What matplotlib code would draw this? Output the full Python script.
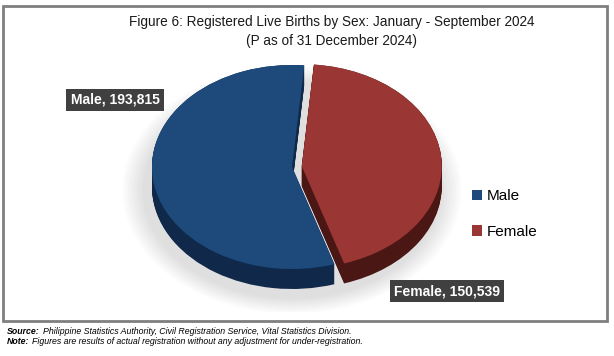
import numpy as np
import matplotlib.pyplot as plt
from matplotlib.patches import Ellipse, Rectangle

# data
labels = ["Male", "Female"]
births = [193815, 150539]

top_colors = {"Male": "#1d4a7a", "Female": "#9a3634"}
side_colors = {"Male": "#10294a", "Female": "#4a1715"}

W, H = 614, 356
fig = plt.figure(figsize=(W / 100, H / 100), dpi=100)
fig.patch.set_facecolor("white")

def fx(px):
    return px / W

def fy(py):
    return 1 - py / H

# outer frame
fig.add_artist(Rectangle((fx(3), fy(321)), fx(604), 315 / H, transform=fig.transFigure,
                         fill=False, edgecolor="#7f7f7f", lw=2))

# pie axes (squashed to fake a tilted 3D pie)
cx, cy, rx, ry = 292, 167, 140, 102
left, right, top, bottom = 122, 462, 40, 312
ax = fig.add_axes([fx(left), fy(bottom), (right - left) / W, (bottom - top) / H])
ax.axis("off")

# pie order: female first going clockwise from the top
order = [1, 0]
vals = [births[i] for i in order]
names = [labels[i] for i in order]
explode = [0.07, 0.0]
depth = 20 / ry

# soft shadow
for k in range(8):
    ax.add_patch(Ellipse((0.0, -depth - 0.03), 2.1 + 0.04 * (8 - k), 2.1 + 0.04 * (8 - k),
                         facecolor="#808080", alpha=0.03, lw=0, zorder=0))

# side of the disc
for d in np.linspace(depth, 0, 25):
    w, _ = ax.pie(vals, colors=[side_colors[n] for n in names], startangle=85,
                  counterclock=False, explode=explode, center=(0, -d), radius=1.0,
                  wedgeprops=dict(lw=0))
    for ww in w:
        ww.set_zorder(1)

# top face
wedges, _ = ax.pie(vals, colors=[top_colors[n] for n in names], startangle=85,
                   counterclock=False, explode=explode, center=(0, 0), radius=1.0,
                   wedgeprops=dict(lw=0))
for ww in wedges:
    ww.set_zorder(2)
ax.set_aspect("auto")
ax.set_xlim(-(cx - left) / rx, (right - cx) / rx)
ax.set_ylim(-(bottom - cy) / ry, (cy - top) / ry)

# title
title_font = ["Liberation Sans Narrow", "Liberation Sans", "DejaVu Sans"]
fig.text(fx(332), fy(22), "Figure 6: Registered Live Births by Sex: January - September 2024",
         ha="center", va="center", fontsize=9.8, family=title_font, color="#1a1a1a")
fig.text(fx(332), fy(41), "(P as of 31 December 2024)",
         ha="center", va="center", fontsize=9.8, family=title_font, color="#1a1a1a")

# data labels
lab_pos = {"Male": (115, 100), "Female": (447, 291)}
for name, v in zip(labels, births):
    x, y = lab_pos[name]
    fig.text(fx(x), fy(y), f"{name}, {v:,}", ha="center", va="center",
             fontsize=10, fontweight="bold", color="white", family=["Liberation Sans", "DejaVu Sans"],
             bbox=dict(boxstyle="square,pad=0.3", facecolor="#404040", edgecolor="none"))

# legend
handles = [Rectangle((0, 0), 1, 1, facecolor=top_colors[n]) for n in labels]
fig.legend(handles, labels, loc="center left", bbox_to_anchor=(fx(458), fy(214)),
           frameon=False, handlelength=0.7, handleheight=0.7,
           handletextpad=0.3, labelspacing=1.4, prop={"family": "Liberation Sans", "size": 11})

# footnotes
src = fig.text(fx(7), fy(331), "Source:", ha="left", va="center", fontsize=6.3,
               style="italic", fontweight="bold", family="Liberation Sans")
note = fig.text(fx(7), fy(342), "Note:", ha="left", va="center", fontsize=6.3,
                style="italic", fontweight="bold", family="Liberation Sans")
fig.canvas.draw()
r = fig.canvas.get_renderer()
for t, rest in [(src, "Philippine Statistics Authority, Civil Registration Service, Vital Statistics Division."),
                (note, "Figures are results of actual registration without any adjustment for under-registration.")]:
    bb = t.get_window_extent(r)
    fig.text((bb.x1 + 3) / W, t.get_position()[1], rest, ha="left", va="center", fontsize=6.3,
             style="italic", family="Liberation Sans")

fig.savefig("out.png", dpi=100)
